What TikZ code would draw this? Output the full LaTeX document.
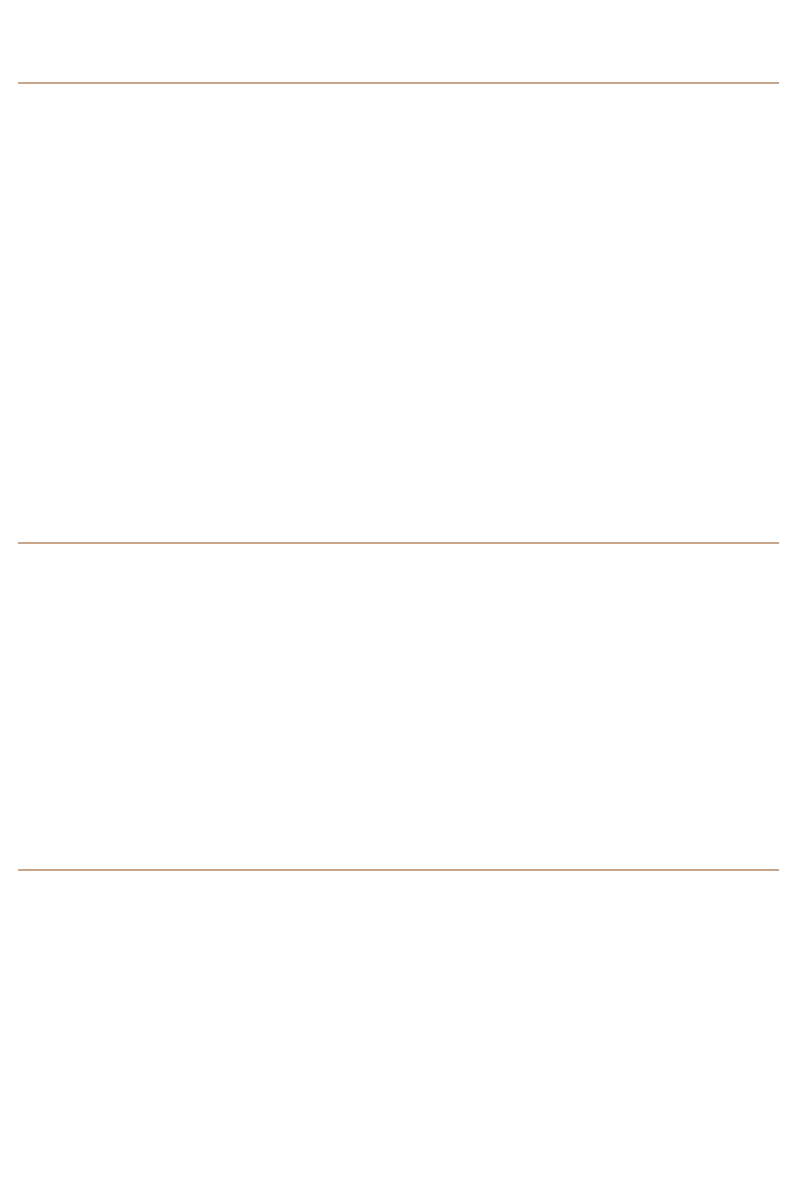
\documentclass[tikz,border=0pt]{standalone}
\usepackage{tikz}
\definecolor{rulecolor}{RGB}{200,166,140}
\tikzstyle{rule} = [draw=rulecolor, line width=1.2pt]

\begin{document}
\begin{tikzpicture}[x=0.02cm, y=-0.02cm]

        \useasboundingbox (0,0) rectangle (800,1200);

        \foreach \y in {83, 543, 870} {
            \draw [rule] (18,\y) -- (779,\y);
        }

\end{tikzpicture}
\end{document}
